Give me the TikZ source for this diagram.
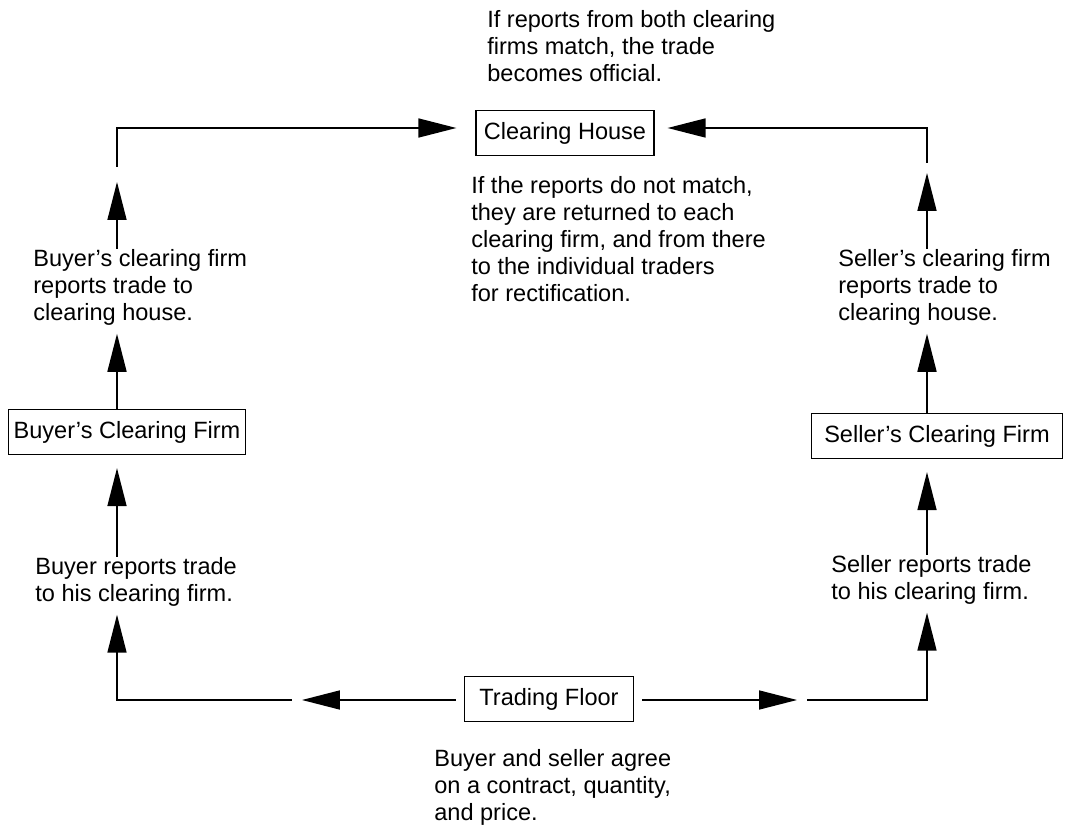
\documentclass[tikz,border=0pt]{standalone}
\usepackage{fontspec}
\setmainfont{Liberation Sans}
\usetikzlibrary{arrows.meta}

\tikzset{
	firm node/.style = {
		rectangle,
		draw = black,
		line width = 0.7pt,
		inner sep = 0pt,
		minimum height = 0.9cm
	},
	note node/.style = {
		align = left,
		anchor = north west,
		inner sep = 0pt
	},
	flow/.style = {
		line width = 0.9pt,
		-{Triangle[length=0.76cm,width=0.38cm]}
	}
}

\begin{document}
\begin{tikzpicture}[x=0.02cm, y=-0.02cm, font=\fontsize{13.4}{15.4}\selectfont]
	\useasboundingbox (0,0) rectangle (1066,827);

	\node at (565,133) [firm node, minimum width=3.56cm] (ch)  {Clearing House};
	\node at (127,432) [firm node, minimum width=4.74cm] (bcf) {Buyer's Clearing Firm};
	\node at (937,436) [firm node, minimum width=5.02cm] (scf) {Seller's Clearing Firm};
	\node at (549,699) [firm node, minimum width=3.38cm] (tf)  {Trading Floor};

	\node at (487,10)  [note node] (chok) {If reports from both clearing\\firms match, the trade\\becomes official.};
	\node at (471,176) [note node] (chno) {If the reports do not match,\\they are returned to each\\clearing firm, and from there\\to the individual traders\\for rectification.};
	\node at (33,249)  [note node] (bct)  {Buyer's clearing firm\\reports trade to\\clearing house.};
	\node at (838,249) [note node] (sct)  {Seller's clearing firm\\reports trade to\\clearing house.};
	\node at (35,557)  [note node] (brt)  {Buyer reports trade\\to his clearing firm.};
	\node at (831,555) [note node] (srt)  {Seller reports trade\\to his clearing firm.};
	\node at (434,749) [note node] (tft)  {Buyer and seller agree\\on a contract, quantity,\\and price.};

	\coordinate (tl) at (117,128);
	\coordinate (bl) at (117,700);
	\coordinate (tr) at (927,128);
	\coordinate (br) at (927,700);

	% buyer's side
	\draw[flow] ([xshift=-0.16cm]tf.west |- bl) -- ([xshift=3.7cm]bl);
	\draw[flow] ([xshift=3.5cm]bl) -- (bl) -- ([yshift=-0.16cm]brt.south -| bl);
	\draw[flow] (brt.north -| bl) -- ([yshift=-0.26cm]bcf.south -| bl);
	\draw[flow] (bcf.north -| bl) -- ([yshift=-0.16cm]bct.south -| bl);
	\draw[flow] (bct.north -| tl) -- ([yshift=-1.08cm]tl);
	\draw[flow] ([yshift=-0.78cm]tl) -- (tl) -- ([xshift=-0.38cm]ch.west |- tl);

	% seller's side
	\draw[flow] ([xshift=0.16cm]tf.east |- br) -- ([xshift=-2.6cm]br);
	\draw[flow] ([xshift=-2.4cm]br) -- (br) -- ([yshift=-0.16cm]srt.south -| br);
	\draw[flow] (srt.north -| br) -- ([yshift=-0.26cm]scf.south -| br);
	\draw[flow] (scf.north -| br) -- ([yshift=-0.16cm]sct.south -| br);
	\draw[flow] (sct.north -| tr) -- ([yshift=-0.9cm]tr);
	\draw[flow] ([yshift=-0.7cm]tr) -- (tr) -- ([xshift=0.26cm]ch.east |- tr);
\end{tikzpicture}
\end{document}
